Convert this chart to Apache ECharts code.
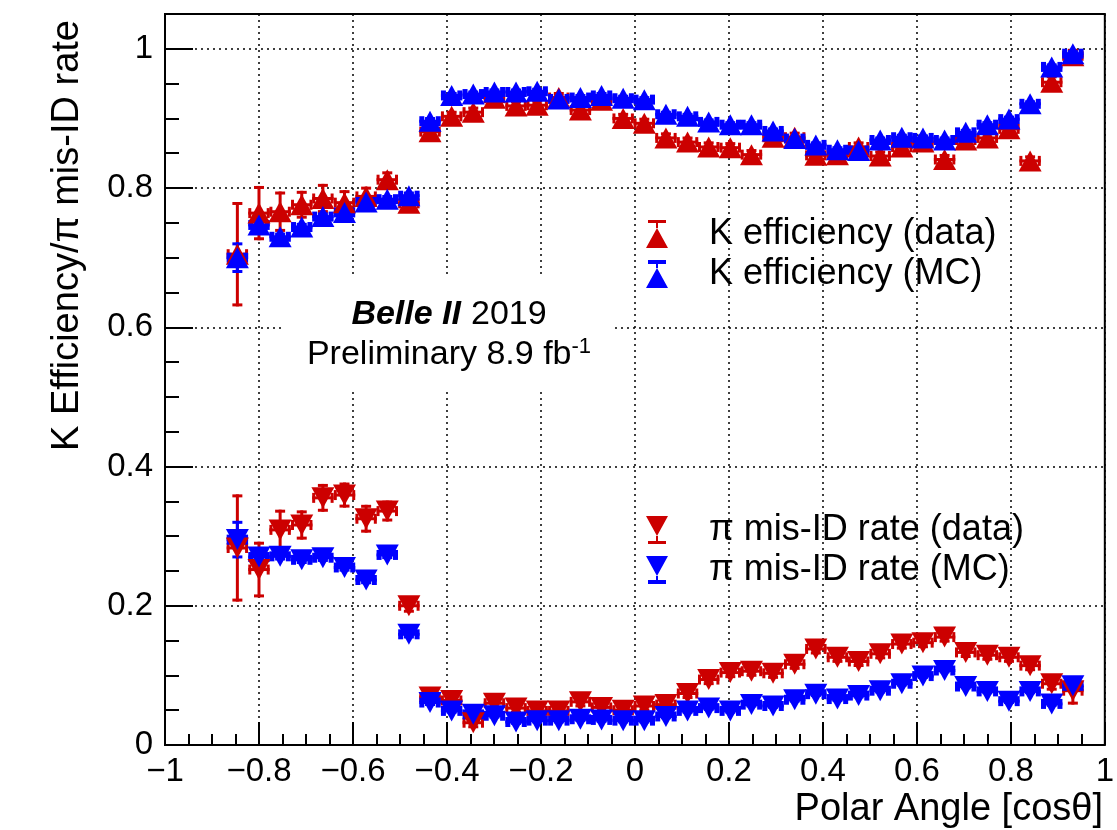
<!DOCTYPE html>
<html>
<head>
<meta charset="utf-8">
<script src="https://cdn.jsdelivr.net/npm/echarts@6/dist/echarts.min.js"></script>
<style>html,body{margin:0;padding:0;background:#fff}#c{width:1117px;height:830px}</style>
</head>
<body>
<div id="c"></div>
<script>
// bin centres in cos(theta)
const binCenters = [-0.846,-0.800,-0.755,-0.709,-0.664,-0.618,-0.572,-0.527,-0.481,-0.436,
  -0.390,-0.344,-0.299,-0.253,-0.208,-0.162,-0.116,-0.071,-0.025,0.020,
  0.066,0.112,0.157,0.203,0.248,0.294,0.340,0.385,0.431,0.476,
  0.522,0.568,0.613,0.659,0.704,0.750,0.796,0.841,0.887,0.932];
const binHalfWidth = 0.0228;

const kEffData = [0.705,0.764,0.766,0.776,0.785,0.779,0.788,0.812,0.778,0.881,
  0.903,0.909,0.929,0.918,0.919,0.930,0.912,0.926,0.900,0.893,
  0.872,0.866,0.859,0.858,0.848,0.873,0.873,0.847,0.848,0.859,
  0.846,0.859,0.866,0.841,0.869,0.872,0.885,0.839,0.952,0.990];
const kEffDataErr = [0.075,0.039,0.029,0.020,0.021,0.018,0.014,0.012,0.010,0.010,
  0.008,0.008,0.008,0.008,0.008,0.008,0.008,0.008,0.008,0.008,
  0.008,0.008,0.008,0.008,0.008,0.008,0.008,0.008,0.008,0.008,
  0.008,0.008,0.008,0.008,0.008,0.008,0.008,0.008,0.010,0.010];
const kEffMC = [0.700,0.747,0.730,0.744,0.759,0.765,0.780,0.784,0.789,0.896,
  0.933,0.935,0.938,0.938,0.939,0.928,0.930,0.933,0.929,0.927,
  0.906,0.903,0.895,0.891,0.891,0.882,0.871,0.862,0.855,0.854,
  0.869,0.873,0.872,0.869,0.880,0.891,0.899,0.921,0.974,0.993];
const kEffMCErr = [0.022,0.006,0.006,0.006,0.006,0.006,0.006,0.006,0.006,0.006,
  0.005,0.005,0.005,0.005,0.005,0.005,0.005,0.005,0.005,0.005,
  0.005,0.005,0.005,0.005,0.005,0.005,0.005,0.005,0.005,0.005,
  0.005,0.005,0.005,0.005,0.005,0.005,0.005,0.005,0.005,0.005];
const piMisData = [0.283,0.252,0.309,0.316,0.355,0.359,0.325,0.336,0.200,0.069,
  0.064,0.032,0.060,0.053,0.049,0.049,0.062,0.054,0.050,0.056,
  0.058,0.074,0.094,0.104,0.106,0.103,0.116,0.138,0.126,0.120,
  0.131,0.145,0.147,0.155,0.133,0.129,0.126,0.114,0.088,0.078];
const piMisDataErr = [0.077,0.040,0.029,0.021,0.020,0.018,0.020,0.015,0.010,0.008,
  0.008,0.008,0.008,0.008,0.008,0.008,0.008,0.008,0.008,0.008,
  0.008,0.008,0.008,0.008,0.008,0.008,0.008,0.008,0.008,0.008,
  0.008,0.008,0.008,0.008,0.008,0.008,0.008,0.008,0.010,0.020];
const piMisMC = [0.295,0.270,0.271,0.266,0.269,0.255,0.237,0.273,0.159,0.061,
  0.049,0.044,0.042,0.033,0.035,0.035,0.037,0.036,0.035,0.035,
  0.041,0.049,0.053,0.049,0.058,0.056,0.065,0.073,0.066,0.071,
  0.078,0.088,0.099,0.107,0.084,0.077,0.063,0.077,0.059,0.085];
const piMisMCErr = [0.027,0.006,0.006,0.006,0.006,0.006,0.006,0.006,0.006,0.005,
  0.004,0.004,0.004,0.004,0.004,0.004,0.004,0.004,0.004,0.004,
  0.004,0.004,0.004,0.004,0.004,0.004,0.004,0.004,0.004,0.004,
  0.004,0.004,0.004,0.004,0.004,0.004,0.004,0.004,0.004,0.004];

const xTicks = [-1,-0.8,-0.6,-0.4,-0.2,0,0.2,0.4,0.6,0.8,1];
const yTicks = [0,0.2,0.4,0.6,0.8,1];

const RED = '#cc0000', BLUE = '#0000ff';
const FONT = 'Liberation Sans, Arial, Helvetica, sans-serif';

function pts(vals){ return vals.map((v,i)=>[binCenters[i], v]); }
function errPts(vals, errs){ return vals.map((v,i)=>[binCenters[i], v, binHalfWidth, errs[i]]); }

function errRender(color, capW, capH, lw){
  return function(params, api){
    const x = api.value(0), y = api.value(1), xe = api.value(2), ye = api.value(3);
    const L = api.coord([x-xe, y]), R = api.coord([x+xe, y]);
    const T = api.coord([x, y+ye]), B = api.coord([x, y-ye]);
    const st = {stroke: color, lineWidth: lw};
    return {type:'group', children:[
      {type:'line', shape:{x1:L[0], y1:L[1], x2:R[0], y2:R[1]}, style:st},
      {type:'rect', shape:{x:L[0], y:L[1]-capH/2, width:capW, height:capH}, style:{fill:color}},
      {type:'rect', shape:{x:R[0]-capW, y:R[1]-capH/2, width:capW, height:capH}, style:{fill:color}},
      {type:'line', shape:{x1:T[0], y1:T[1], x2:B[0], y2:B[1]}, style:st},
      {type:'rect', shape:{x:T[0]-capH/2, y:T[1], width:capH, height:3}, style:{fill:color}},
      {type:'rect', shape:{x:B[0]-capH/2, y:B[1]-3, width:capH, height:3}, style:{fill:color}}
    ]};
  };
}

function errSeries(vals, errs, color, capW){
  return {type:'custom', data: errPts(vals, errs), encode:{x:0, y:1},
    renderItem: errRender(color, capW, 10, 3), silent:true, z:2};
}
function markSeries(name, vals, color, down){
  return {type:'scatter', name: name, data: pts(vals), symbol:'triangle',
    symbolSize:[23,21], symbolRotate: down ? 180 : 0,
    itemStyle:{color: color, opacity:1}, z:2, silent:true};
}

const upIconData = 'path://M2,0L20,0L20,3L12,3L12,8L10,8L10,3L2,3Z M11,8L22,28L0,28Z';
const upIconMC = 'path://M2,0L20,0L20,4L12,4L12,8L10,8L10,4L2,4Z M11,8L22,28L0,28Z';
const dnIconData = 'path://M0,0L22,0L11,20Z M10,20L12,20L12,25L20,25L20,28L2,28L2,25L10,25Z';
const dnIconMC = 'path://M0,0L22,0L11,20Z M10,20L12,20L12,24L20,24L20,28L2,28L2,24L10,24Z';

function fmt(v){
  const r = Math.round(v*10)/10;
  return String(r).replace('-', '\u2212');
}

const legendText = {fontSize:36, fontFamily:FONT, color:'#000', lineHeight:36, padding:[0,0,0,36]};

const option = {
  animation:false,
  backgroundColor:'#fff',
  grid:{left:165, right:12, top:14, bottom:85, show:true, borderColor:'#000', borderWidth:2, backgroundColor:'rgba(0,0,0,0)'},
  xAxis:{type:'value', min:xTicks[0], max:xTicks[xTicks.length-1], interval:0.2,
    axisLine:{show:false, onZero:false},
    axisTick:{show:true, inside:true, length:23, lineStyle:{color:'#000', width:2}},
    minorTick:{show:true, splitNumber:4, length:11, lineStyle:{color:'#000', width:2}},
    splitLine:{show:true, lineStyle:{color:'#000', width:1.5, type:[2,4]}},
    axisLabel:{fontSize:33, fontFamily:FONT, color:'#000', margin:10, formatter:fmt}
  },
  yAxis:[
    {type:'value', min:0, max:1.05, interval:0.2, position:'left',
      axisLine:{show:false, onZero:false},
      axisTick:{show:true, inside:true, length:28, lineStyle:{color:'#000', width:2}},
      splitLine:{show:true, lineStyle:{color:'#000', width:1.5, type:[2,4]}},
      axisLabel:{fontSize:33, fontFamily:FONT, color:'#000', margin:12,
        formatter:function(v){ return yTicks.some(t=>Math.abs(t-v)<1e-6) ? fmt(v) : ''; }}
    },
    {type:'value', min:0, max:1.05, interval:0.05, position:'left',
      axisLine:{show:false, onZero:false},
      axisTick:{show:true, inside:true, length:14, lineStyle:{color:'#000', width:2}},
      splitLine:{show:false}, axisLabel:{show:false}
    }
  ],
  legend:[
    {data:[{name:'K efficiency (data)', icon:upIconData},{name:'K efficiency (MC)', icon:upIconMC}],
      orient:'vertical', left:641, top:211, itemWidth:22, itemHeight:28, itemGap:4,
      selectedMode:false, textStyle:legendText},
    {data:[{name:'\u03c0 mis-ID rate (data)', icon:dnIconData},{name:'\u03c0 mis-ID rate (MC)', icon:dnIconMC}],
      orient:'vertical', left:641, top:507, itemWidth:22, itemHeight:28, itemGap:4,
      selectedMode:false, textStyle:legendText}
  ],
  graphic:[
    {type:'rect', z:1, shape:{x:285, y:277, width:329, height:113}, style:{fill:'#fff'}},
    {type:'text', z:3, x:449, y:315, style:{
      text:'{b|Belle II}   {n|2019}', align:'center', verticalAlign:'middle',
      rich:{b:{fontSize:34, fontFamily:FONT, fontWeight:'bold', fontStyle:'italic', fill:'#000'},
            n:{fontSize:34, fontFamily:FONT, fill:'#000'}}}},
    {type:'text', z:3, x:449, y:355, style:{
      text:'{n|Preliminary 8.9 fb}{s|-1}', align:'center', verticalAlign:'middle',
      rich:{n:{fontSize:34, fontFamily:FONT, fill:'#000'},
            s:{fontSize:22, fontFamily:FONT, fill:'#000', verticalAlign:'top', padding:[0,0,16,0]}}}},
    {type:'text', z:3, x:68, y:20, rotation:Math.PI/2, style:{
      text:'K Efficiency/\u03c0 mis-ID rate', align:'right', verticalAlign:'middle',
      fontSize:38, fontFamily:FONT, fill:'#000'}},
    {type:'text', z:3, x:1103, y:810, style:{
      text:'Polar Angle [cos\u03b8]', align:'right', verticalAlign:'middle',
      fontSize:38, fontFamily:FONT, fill:'#000'}}
  ],
  series:[
    errSeries(kEffData, kEffDataErr, RED, 3),
    markSeries('K efficiency (data)', kEffData, RED, false),
    errSeries(kEffMC, kEffMCErr, BLUE, 5),
    markSeries('K efficiency (MC)', kEffMC, BLUE, false),
    errSeries(piMisData, piMisDataErr, RED, 3),
    markSeries('\u03c0 mis-ID rate (data)', piMisData, RED, true),
    errSeries(piMisMC, piMisMCErr, BLUE, 5),
    markSeries('\u03c0 mis-ID rate (MC)', piMisMC, BLUE, true)
  ]
};

const chart = echarts.init(document.getElementById('c'), null, {renderer:'canvas'});
chart.setOption(option);
</script>
</body>
</html>
